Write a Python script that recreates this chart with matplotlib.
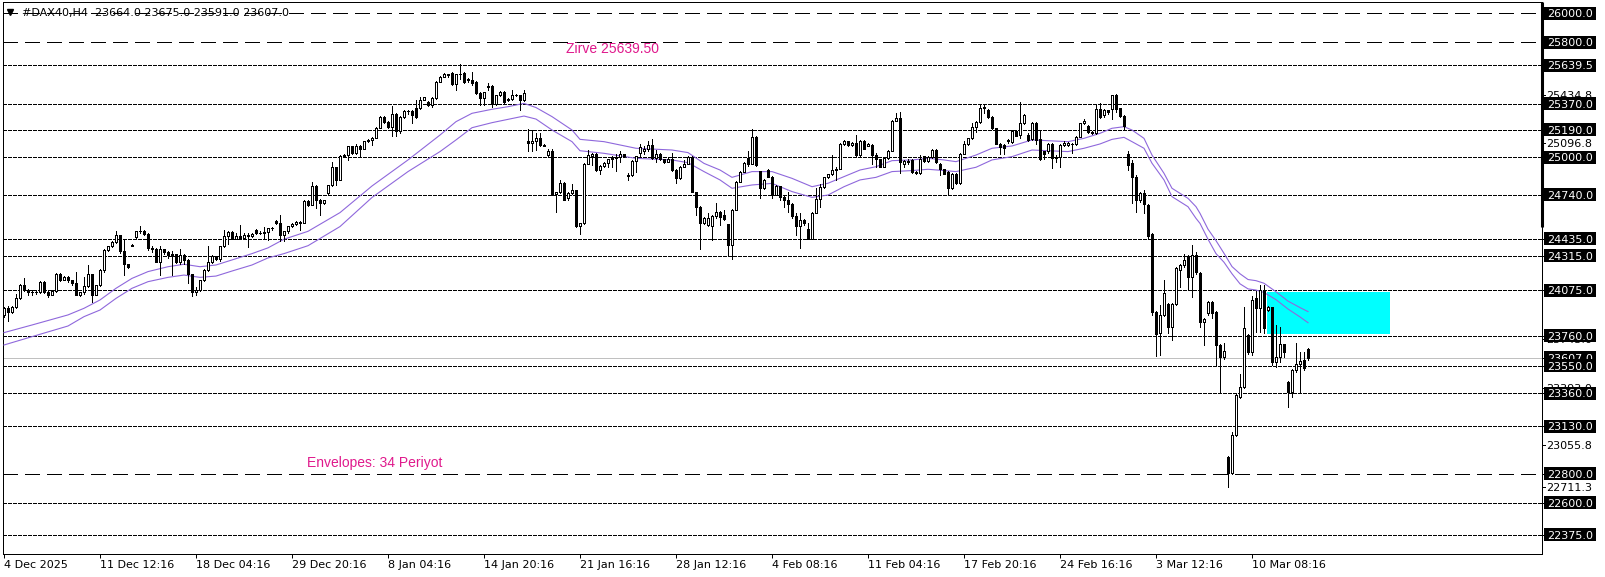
import numpy as np
import matplotlib
matplotlib.use("Agg")
import matplotlib.pyplot as plt
from matplotlib.patches import Rectangle
from matplotlib.lines import Line2D
from matplotlib import transforms

W, H = 1606, 577

# H4 candles, left to right
opens = [
    23905, 23955, 23925, 23960, 24020, 24110, 24075, 24060, 24065, 24060,
    24135, 24060, 24045, 24070, 24190, 24150, 24170, 24145, 24125, 24045,
    24060, 24105, 24185, 24045, 24110, 24215, 24355, 24380, 24410, 24460,
    24345, 24255, 24385, 24443, 24485, 24490, 24465, 24370, 24365, 24275,
    24360, 24340, 24320, 24325, 24270, 24320, 24285, 24185, 24060, 24080,
    24145, 24215, 24270, 24310, 24295, 24380, 24455, 24480, 24435, 24450,
    24440, 24460, 24450, 24495, 24470, 24475, 24478, 24505, 24560, 24540,
    24460, 24485, 24520, 24535, 24550, 24545, 24695, 24670, 24800, 24700,
    24680, 24750, 24805, 24930, 24845, 25010, 25015, 25075, 25030, 25080,
    25060, 25110, 25120, 25135, 25205, 25280, 25245, 25210, 25300, 25180,
    25280, 25320, 25322, 25340, 25340, 25400, 25385, 25365, 25410, 25525,
    25560, 25575, 25583, 25510, 25575, 25585, 25545, 25535, 25525, 25445,
    25410, 25490, 25495, 25370, 25430, 25455, 25395, 25405, 25430, 25432,
    25395, 25115, 25100, 25115, 25135, 25085, 25015, 25040, 24745, 24755,
    24820, 24715, 24750, 24770, 24520, 24540, 24955, 25005, 25025, 24910,
    24940, 24960, 24985, 24995, 25000, 25020, 24875, 24875, 24975, 25030,
    25040, 25060, 25085, 24995, 25025, 24985, 24970, 24990, 24910, 24855,
    24935, 24955, 25000, 24760, 24655, 24540, 24530, 24520, 24590, 24620,
    24595, 24535, 24390, 24635, 24830, 24900, 24992, 24955, 25140, 24905,
    24785, 24910, 24865, 24740, 24800, 24725, 24705, 24675, 24590, 24520,
    24565, 24500, 24435, 24615, 24710, 24790, 24860, 24880, 24910, 24920,
    25095, 25110, 25085, 25100, 25015, 25115, 25080, 25085, 25015, 24985,
    24935, 24995, 25045, 25255, 25270, 24950, 24975, 24980, 24900, 24890,
    25005, 24975, 25000, 25050, 24955, 24915, 24900, 24785, 24885, 24820,
    25025, 25090, 25130, 25210, 25245, 25345, 25328, 25282, 25200, 25095,
    25085, 25110, 25108, 25185, 25155, 25235, 25155, 25125, 25240, 25125,
    25040, 25040, 25095, 24992, 25004, 25085, 25085, 25095, 25092, 25143,
    25235, 25217, 25177, 25166, 25333, 25290, 25325, 25333, 25432, 25340,
    25286, 25022, 24958, 24865, 24703, 24754, 24668, 24466, 23927, 23776,
    23904, 23980, 23823, 23980, 24215, 24250, 24313, 24170, 24320, 24198,
    23857, 23920, 23996, 23925, 23695, 23614, 22919, 22808, 23070, 23336,
    23401, 23765, 23649, 24019, 23950, 24077, 23938, 23957, 23579, 23609,
    23702, 23440, 23366, 23521, 23563, 23591, 23664,
]
highs = [
    23960, 23965, 23965, 24050, 24120, 24160, 24085, 24080, 24075, 24140,
    24140, 24075, 24080, 24195, 24195, 24175, 24175, 24150, 24200, 24065,
    24170, 24250, 24190, 24115, 24220, 24360, 24385, 24415, 24490, 24460,
    24425, 24260, 24395, 24490, 24520, 24495, 24470, 24380, 24370, 24380,
    24365, 24345, 24345, 24330, 24365, 24325, 24290, 24190, 24095, 24150,
    24220, 24380, 24320, 24315, 24385, 24495, 24485, 24485, 24475, 24530,
    24475, 24470, 24475, 24500, 24485, 24515, 24510, 24515, 24565, 24600,
    24490, 24525, 24540, 24555, 24555, 24700, 24700, 24830, 24805, 24710,
    24705, 24810, 24970, 24935, 25015, 25020, 25080, 25080, 25090, 25085,
    25115, 25125, 25140, 25210, 25285, 25285, 25250, 25355, 25310, 25285,
    25325, 25330, 25325, 25395, 25420, 25420, 25390, 25415, 25530, 25565,
    25585, 25580, 25590, 25580, 25645, 25590, 25548, 25595, 25528, 25450,
    25455, 25515, 25500, 25435, 25460, 25460, 25410, 25470, 25440, 25435,
    25470, 25195, 25190, 25165, 25165, 25090, 25060, 25055, 24760, 24840,
    24830, 24755, 24815, 24775, 24545, 24960, 25050, 25030, 25030, 24945,
    24965, 24990, 25005, 25025, 25040, 25025, 24890, 24980, 25010, 25095,
    25075, 25110, 25125, 25050, 25030, 24990, 24995, 25030, 24920, 24940,
    24980, 25005, 25005, 24760, 24660, 24585, 24610, 24600, 24680, 24625,
    24630, 24535, 24640, 24835, 24905, 24965, 25040, 25195, 25145, 24905,
    24850, 24915, 24870, 24805, 24800, 24730, 24755, 24680, 24615, 24610,
    24570, 24540, 24620, 24785, 24815, 24865, 24885, 25015, 24930, 25100,
    25120, 25110, 25105, 25155, 25120, 25120, 25100, 25090, 25030, 24990,
    25000, 25050, 25260, 25310, 25315, 24980, 24985, 24985, 24905, 25015,
    25010, 25005, 25060, 25055, 24960, 24920, 24905, 24890, 24890, 25030,
    25110, 25135, 25235, 25250, 25370, 25370, 25335, 25285, 25205, 25100,
    25090, 25125, 25190, 25190, 25385, 25300, 25165, 25245, 25245, 25180,
    25045, 25100, 25100, 25015, 25090, 25110, 25105, 25100, 25150, 25240,
    25262, 25225, 25185, 25360, 25375, 25335, 25330, 25435, 25440, 25345,
    25290, 25045, 24980, 24875, 24760, 24770, 24675, 24470, 23930, 23975,
    24145, 23985, 23985, 24235, 24260, 24330, 24320, 24390, 24340, 24200,
    23880, 24000, 24000, 23930, 23700, 23707, 22925, 23090, 23355, 23495,
    23960, 23770, 24036, 24073, 24112, 24112, 23965, 23960, 23834, 23822,
    23705, 23445, 23525, 23707, 23649, 23649, 23675,
]
lows = [
    23890, 23860, 23915, 23955, 24015, 24070, 24040, 24045, 24050, 24055,
    24055, 24030, 24045, 24065, 24140, 24145, 24135, 24115, 24040, 24035,
    24050, 24100, 23995, 24040, 24105, 24205, 24350, 24375, 24405, 24335,
    24180, 24230, 24380, 24440, 24475, 24460, 24355, 24340, 24270, 24180,
    24325, 24300, 24180, 24265, 24260, 24260, 24125, 24035, 24040, 24070,
    24140, 24210, 24265, 24285, 24280, 24375, 24400, 24430, 24430, 24430,
    24435, 24375, 24445, 24465, 24465, 24440, 24425, 24495, 24535, 24415,
    24415, 24475, 24515, 24530, 24495, 24540, 24660, 24665, 24645, 24600,
    24675, 24745, 24800, 24805, 24840, 25005, 24980, 25020, 25025, 25005,
    25055, 25105, 25085, 25130, 25200, 25240, 25205, 25150, 25150, 25170,
    25275, 25300, 25240, 25275, 25335, 25395, 25355, 25350, 25405, 25520,
    25555, 25560, 25505, 25470, 25540, 25515, 25520, 25505, 25440, 25365,
    25365, 25470, 25350, 25365, 25425, 25380, 25390, 25400, 25425, 25330,
    25390, 25040, 25040, 25050, 25080, 25075, 25010, 24740, 24620, 24750,
    24700, 24700, 24745, 24515, 24465, 24535, 24950, 24945, 24905, 24885,
    24935, 24935, 24935, 24905, 24970, 25000, 24840, 24870, 24900, 25000,
    25025, 25040, 24990, 24970, 24980, 24960, 24965, 24905, 24820, 24850,
    24930, 24950, 24755, 24600, 24360, 24535, 24525, 24425, 24580, 24530,
    24565, 24320, 24295, 24630, 24825, 24895, 24940, 24950, 24940, 24715,
    24780, 24860, 24715, 24735, 24705, 24655, 24620, 24580, 24460, 24370,
    24530, 24430, 24430, 24610, 24655, 24785, 24855, 24875, 24840, 24915,
    25085, 25075, 25078, 25010, 25005, 25055, 25075, 24955, 24935, 24930,
    24930, 24990, 25040, 25250, 24890, 24935, 24955, 24890, 24885, 24885,
    24970, 24970, 24995, 24960, 24875, 24880, 24735, 24780, 24815, 24815,
    25020, 25085, 25125, 25175, 25240, 25305, 25275, 25195, 25090, 25025,
    25025, 25100, 25100, 25145, 25130, 25230, 25110, 25120, 25095, 24980,
    24990, 25030, 24925, 24970, 24935, 25080, 25080, 25027, 25085, 25140,
    25230, 25170, 25160, 25160, 25275, 25280, 25300, 25263, 25315, 25280,
    25194, 24911, 24680, 24620, 24690, 24610, 24430, 23905, 23620, 23625,
    23895, 23775, 23730, 23975, 24100, 24240, 24082, 24030, 24190, 23820,
    23695, 23900, 23880, 23556, 23359, 23600, 22711, 22800, 23065, 23324,
    23395, 23633, 23626, 23788, 23788, 23776, 23930, 23556, 23544, 23579,
    23609, 23262, 23336, 23510, 23371, 23521, 23591,
]
closes = [
    23955, 23925, 23960, 24020, 24110, 24075, 24060, 24065, 24060, 24135,
    24060, 24045, 24070, 24190, 24150, 24170, 24145, 24125, 24045, 24060,
    24105, 24185, 24045, 24110, 24215, 24355, 24380, 24410, 24460, 24345,
    24255, 24240, 24390, 24485, 24490, 24465, 24370, 24365, 24275, 24360,
    24340, 24320, 24325, 24270, 24320, 24285, 24185, 24060, 24080, 24145,
    24215, 24270, 24310, 24295, 24380, 24455, 24480, 24435, 24450, 24440,
    24460, 24450, 24465, 24470, 24475, 24478, 24505, 24508, 24540, 24460,
    24485, 24520, 24535, 24550, 24545, 24695, 24670, 24800, 24700, 24680,
    24700, 24805, 24930, 24845, 25010, 25015, 25075, 25030, 25080, 25060,
    25110, 25120, 25135, 25205, 25280, 25245, 25210, 25300, 25180, 25280,
    25320, 25322, 25290, 25280, 25400, 25415, 25365, 25410, 25525, 25560,
    25575, 25570, 25510, 25575, 25578, 25525, 25535, 25515, 25445, 25410,
    25450, 25495, 25370, 25430, 25455, 25385, 25405, 25430, 25432, 25395,
    25445, 25100, 25115, 25135, 25085, 25080, 25040, 24745, 24755, 24820,
    24705, 24750, 24770, 24520, 24540, 24955, 25015, 25025, 24910, 24940,
    24960, 24985, 24995, 25000, 25020, 25005, 24870, 24975, 25005, 25070,
    25060, 25085, 24995, 25025, 24985, 24970, 24990, 24910, 24855, 24935,
    24955, 25000, 24760, 24655, 24540, 24580, 24575, 24590, 24620, 24585,
    24570, 24390, 24635, 24830, 24900, 24960, 24955, 25140, 24945, 24785,
    24845, 24865, 24740, 24800, 24725, 24705, 24675, 24590, 24520, 24565,
    24545, 24435, 24615, 24710, 24790, 24860, 24880, 24910, 24920, 25095,
    25110, 25085, 25100, 25015, 25115, 25060, 25090, 25015, 24985, 24935,
    24995, 25045, 25255, 25270, 24970, 24975, 24965, 24900, 24890, 24990,
    24975, 25000, 25050, 24965, 24915, 24885, 24785, 24885, 24820, 25025,
    25090, 25130, 25210, 25245, 25345, 25350, 25282, 25200, 25095, 25070,
    25062, 25120, 25185, 25150, 25235, 25290, 25120, 25240, 25120, 24990,
    25025, 25095, 24992, 25004, 25085, 25101, 25101, 25090, 25143, 25235,
    25254, 25177, 25170, 25333, 25282, 25325, 25315, 25432, 25333, 25286,
    25217, 24946, 24865, 24703, 24754, 24675, 24453, 23927, 23772, 23904,
    24054, 23823, 23980, 24228, 24250, 24286, 24170, 24320, 24200, 23857,
    23873, 23996, 23915, 23695, 23609, 23656, 22808, 23070, 23348, 23401,
    23811, 23649, 24008, 23950, 24077, 23811, 23957, 23579, 23614, 23702,
    23649, 23366, 23521, 23563, 23586, 23533, 23607,
]

# Envelopes(34) bands, read at selected bars
env_x = [0, 7, 16, 20, 24, 28, 32, 36, 41, 45, 49, 53, 57, 62, 66, 70, 76, 84, 92, 101,
         109, 113, 117, 122, 126, 130, 133, 137, 142, 144, 150, 158, 167, 171, 175, 179, 182, 187, 192, 197,
         202, 206, 210, 214, 218, 222, 227, 231, 235, 238, 243, 247, 252, 257, 266, 270, 274, 277, 280, 282,
         285, 287, 290, 292, 296, 298, 299, 301, 303, 305, 307, 309, 311, 313, 315, 318, 321, 324, 326]
env_up = [23781, 23834, 23904, 23950, 24008, 24089, 24158, 24205, 24239, 24256, 24239, 24251, 24286, 24330, 24370, 24430, 24485, 24615, 24800, 24981,
          25154, 25247, 25305, 25333, 25351, 25374, 25345, 25282, 25189, 25124, 25108, 25062, 25050, 25032, 24957, 24911, 24860, 24900, 24900, 24853,
          24795, 24819, 24865, 24911, 24934, 24976, 24981, 24992, 24981, 24969, 25015, 25062, 25078, 25120, 25108, 25131, 25166, 25201, 25212, 25189,
          25131, 25015, 24888, 24784, 24714, 24656, 24610, 24500, 24420, 24332, 24240, 24190, 24150, 24142, 24124, 24065, 24000, 23955, 23927]
env_lo = [23695, 23753, 23827, 23892, 23938, 24019, 24089, 24135, 24165, 24181, 24165, 24174, 24209, 24251, 24300, 24330, 24385, 24518, 24720, 24900,
          25039, 25120, 25205, 25240, 25263, 25286, 25265, 25189, 25108, 25045, 25027, 24992, 24981, 24962, 24900, 24842, 24784, 24807, 24818, 24761,
          24721, 24737, 24795, 24842, 24860, 24900, 24907, 24916, 24907, 24900, 24930, 24981, 25004, 25050, 25039, 25062, 25092, 25124, 25138, 25108,
          25062, 24958, 24842, 24726, 24656, 24575, 24540, 24430, 24330, 24270, 24190, 24120, 24085, 24077, 24060, 24010, 23945, 23890, 23850]

tick_bars = [0, 24, 48, 72, 96, 120, 144, 168, 192, 216, 240, 264, 288, 312]
tick_labels = ["4 Dec 2025", "11 Dec 12:16", "18 Dec 04:16", "29 Dec 20:16", "8 Jan 04:16",
               "14 Jan 20:16", "21 Jan 16:16", "28 Jan 12:16", "4 Feb 08:16", "11 Feb 04:16",
               "17 Feb 20:16", "24 Feb 16:16", "3 Mar 12:16", "10 Mar 08:16"]

dash_levels = [26000, 25800, 22800]
dot_levels = [25639.5, 25370, 25190, 25000, 24740, 24435, 24315, 24075, 23760,
              23550, 23360, 23130, 22600, 22375]
bid_price = 23607
boxed_labels = [26000, 25800, 25639.5, 25370, 25190, 25000, 24740, 24435, 24315,
                24075, 23760, 23607, 23550, 23360, 23130, 22800, 22600, 22375]
plain_labels = [25434.8, 25096.8, 23055.8, 22711.3, 23393.0, 23743.0]
plain_label_pos = [25434.8, 25096.8, 23000, 22711.3, 23393.0, 23735.0]

zone_bars = (315.8, 346.5)
zone_prices = (23770, 24062)

title = "#DAX40,H4  23664.0 23675.0 23591.0 23607.0"

PX = 0.72  # one pixel in points at 100 dpi
PPX = 6.949  # price units per pixel

fig = plt.figure(figsize=(W / 100, H / 100), dpi=100)
ax = fig.add_axes([3 / W, (H - 554) / H, (1542 - 3) / W, (554 - 2) / H])
ax.set_xlim(-0.25, 384.5)
ax.set_ylim(22242.6, 26078.5)

for lvl in dash_levels:
    ax.axhline(lvl, color="black", lw=PX, ls=(0, (15, 8)), zorder=1, antialiased=False)
for lvl in dot_levels:
    ax.axhline(lvl, color="black", lw=PX, ls=(0, (3, 2)), zorder=1, antialiased=False)
ax.axhline(bid_price, color="#c0c0c0", lw=PX, zorder=1, antialiased=False)

ax.add_patch(Rectangle((zone_bars[0], zone_prices[0]), zone_bars[1] - zone_bars[0],
                       zone_prices[1] - zone_prices[0], facecolor="#00ffff",
                       edgecolor="none", zorder=2))

ax.plot(env_x, env_up, color="#8f68dc", lw=0.8, zorder=3)
ax.plot(env_x, env_lo, color="#8f68dc", lw=0.8, zorder=3)

# candles
x = np.arange(len(closes))
o = np.array(opens)
c = np.array(closes)
ax.vlines(x, lows, highs, color="black", lw=PX, zorder=4, antialiased=False)
ax.bar(x, np.abs(c - o), bottom=np.minimum(o, c), width=0.5,
       color=np.where(c >= o, "white", "black"), edgecolor="black",
       linewidth=PX, zorder=5, antialiased=False)

# annotations
ax.text(140.5, 25752, "Zirve 25639.50", color="#e0198c", fontsize=10,
        family="Liberation Sans", va="center", ha="left")
ax.text(75.8, 22875, "Envelopes: 34 Periyot", color="#e0198c", fontsize=10,
        family="Liberation Sans", va="center", ha="left")

# frame and time axis
for sp in ax.spines.values():
    sp.set_linewidth(PX)
ax.set_xticks(tick_bars)
ax.set_xticklabels(tick_labels)
for t in ax.get_xticklabels():
    t.set_horizontalalignment("left")
ax.tick_params(axis="x", length=3, width=PX, direction="out", pad=1.5, labelsize=8)
ax.tick_params(axis="y", left=False, labelleft=False)

# thicker top part of the price scale border
side = transforms.blended_transform_factory(ax.transAxes, ax.transData)
ax.plot([1, 1], [24515, 26078.5], transform=side, color="black", lw=2.2,
        solid_capstyle="butt", clip_on=False, zorder=6)

# price scale labels
lab = transforms.blended_transform_factory(fig.transFigure, ax.transData)
for val, pos in zip(plain_labels, plain_label_pos):
    ax.text(1546 / W, pos - 4 * PPX, f"{val:.1f}", transform=lab, fontsize=8,
            color="black", va="baseline", ha="left", clip_on=False, zorder=7)
    ax.plot([1542 / W, 1545 / W], [pos, pos], transform=lab, color="black",
            lw=PX, clip_on=False, zorder=7)
for val in boxed_labels:
    ax.plot([1542 / W, 1545 / W], [val, val], transform=lab, color="black",
            lw=PX, clip_on=False, zorder=8)
    ax.add_patch(Rectangle((1544 / W, val - 6.5 * PPX), 52 / W, 13 * PPX,
                           transform=lab, facecolor="black", edgecolor="none",
                           clip_on=False, zorder=8))
    ax.text(1547 / W, val - 4 * PPX, f"{val:.1f}", transform=lab, fontsize=8,
            color="white", va="baseline", ha="left", clip_on=False, zorder=8)

# header
fig.add_artist(Line2D([10.5 / W], [1 - 11.5 / H], marker="v", markersize=5,
                      color="black", transform=fig.transFigure))
fig.text(22 / W, 1 - 13 / H, title, fontsize=8, va="center", ha="left")

fig.savefig("out.png", dpi=100, facecolor="white")
